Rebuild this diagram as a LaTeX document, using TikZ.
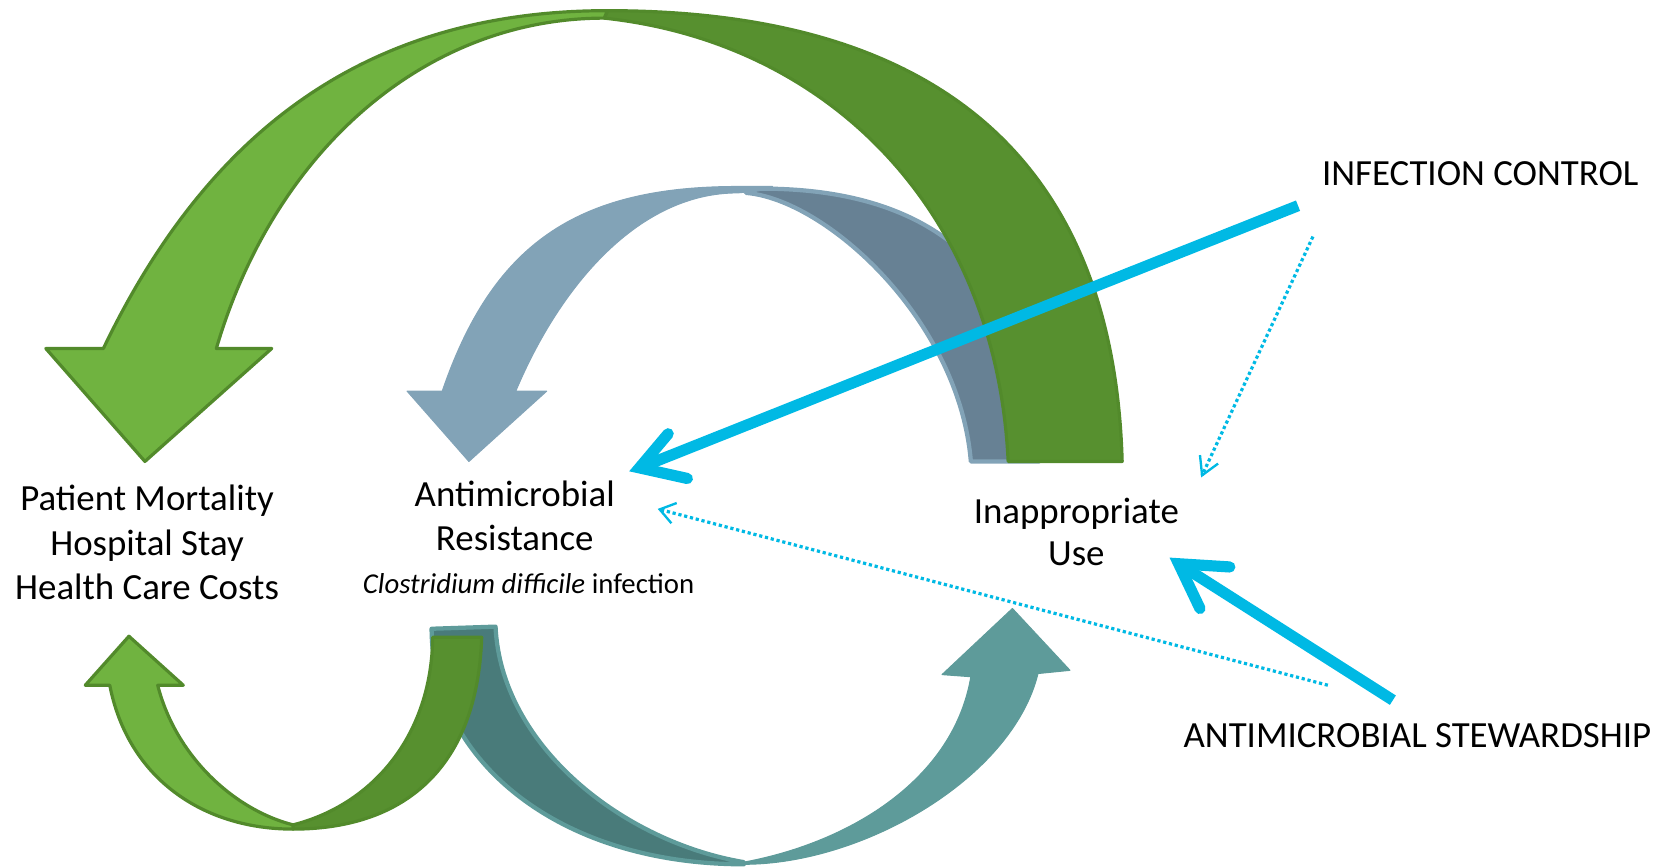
\documentclass[tikz,border=0pt]{standalone}
\usepackage{fontspec}
\setmainfont{Carlito}
\definecolor{glight}{HTML}{70B340}
\definecolor{gdark}{HTML}{57902F}
\definecolor{gline}{HTML}{528A2B}
\definecolor{blight}{HTML}{82A3B7}
\definecolor{bdark}{HTML}{678194}
\definecolor{tlight}{HTML}{5E9B9A}
\definecolor{tdark}{HTML}{497B7A}
\definecolor{cyanc}{HTML}{00B9E4}
\begin{document}
\begin{tikzpicture}[x=1pt,y=-1pt,
  greenfront/.style={fill=glight,draw=gline,line width=3pt,line join=round},
  greenback/.style={fill=gdark,draw=gline,line width=3pt,line join=round},
  greyfront/.style={fill=blight,draw=blight,line width=1pt,line join=round},
  greyback/.style={fill=bdark,draw=blight,line width=4pt,line join=round},
  tealfront/.style={fill=tlight,draw=tlight,line width=1pt,line join=round},
  tealback/.style={fill=tdark,draw=tlight,line width=4pt,line join=round},
  cyanthick/.style={draw=cyanc,line width=10.5pt},
  cyanhead/.style={draw=cyanc,line width=10.5pt,line cap=round,line join=miter},
  cyandot/.style={draw=cyanc,line width=3pt,dash pattern=on 3pt off 2.6pt},
  cyansmall/.style={draw=cyanc,line width=2.2pt,line join=miter},
  lbl/.style={font=\fontsize{34.6}{41.5}\selectfont,inner sep=0pt},
]
\useasboundingbox (0,0) rectangle (1568,814);

% grey-blue arrow (behind)
\path[greyback] (700,181) .. controls (775,187) and (900,300) .. (911,433)
  -- (975,433) .. controls (975,280) and (900,176) .. (712,177) -- cycle;
\path[greyfront] (725,175) -- (692,175) .. controls (540,175) and (462,230) .. (415,367)
  -- (382,367) -- (440,433) -- (513,367) -- (484,367)
  .. controls (526,267) and (600,181) .. (692,181) -- (712,179) -- cycle;

% big green arrow
\path[greenback] (567,17) .. controls (780,40) and (935,200) .. (946,433)
  -- (1053,433) .. controls (1045,150) and (880,10) .. (570,10) -- cycle;
\path[greenfront] (570,10) .. controls (340,10) and (193,127) .. (97,327)
  -- (43,327) -- (136,433) -- (255,327) -- (203,327)
  .. controls (258,140) and (400,17) .. (567,17) -- cycle;

% teal arrow
\path[tealback] (405,590) .. controls (405,710) and (520,811) .. (698,811)
  -- (698,809) .. controls (585,790) and (470,700) .. (465,588) -- cycle;
\path[tealfront] (698,811) .. controls (810,811) and (950,730) .. (974,632)
  -- (1004,629) -- (950,571) -- (884,633) -- (911,635)
  .. controls (895,730) and (800,790) .. (698,809) -- cycle;

% small green arrow
\path[greenback] (275,778) .. controls (380,778) and (448,720) .. (452,598)
  -- (406,598) .. controls (405,690) and (350,755) .. (275,774) -- cycle;
\path[greenfront] (275,778) .. controls (190,778) and (120,730) .. (103,643)
  -- (80,643) -- (121,597) -- (172,643) -- (148,643)
  .. controls (165,710) and (220,760) .. (275,774) -- cycle;

% labels
\node[lbl,align=center,font=\fontsize{34.6}{42}\selectfont] (pm) at (138,509) {Patient Mortality\\Hospital Stay\\Health Care Costs};
\node[lbl,align=center,font=\fontsize{34.6}{41}\selectfont] (amr) at (483,484) {Antimicrobial\\Resistance};
\node[font=\fontsize{27}{32}\selectfont,inner sep=0pt] (cdi) at (496,548) {\textit{Clostridium difficile} infection};
\node[lbl,align=center,font=\fontsize{34.6}{40}\selectfont] (iu) at (1010,499) {Inappropriate\\Use};
\node[lbl] (ic) at (1389,163) {INFECTION CONTROL};
\node[lbl] (as) at (1330,690) {ANTIMICROBIAL STEWARDSHIP};

% connector end points
\coordinate (icS) at (1218,193);
\coordinate (amrV) at (600,439);
\coordinate (asS) at (1307,657);
\coordinate (iuV) at (1106,529);
\coordinate (icD) at (1232,222);
\coordinate (iuT) at (1128,446);
\coordinate (asD) at (1246,643);
\coordinate (amrT) at (619,478);

% thick cyan arrows
\draw[cyanthick] (icS) -- (amrV);
\draw[cyanhead] (amrV) ++(27,-32) -- (amrV) -- ++(45,10);
\draw[cyanthick] (asS) -- (iuV);
\draw[cyanhead] (iuV) ++(48,3) -- (iuV) -- ++(20,42);

% dotted cyan arrows
\draw[cyandot] (icD) -- (iuT);
\draw[cyansmall] (iuT) ++(-2,-19) -- (iuT) -- ++(15,-11);
\draw[cyandot] (asD) -- (amrT);
\draw[cyansmall] (amrT) ++(16,-6) -- (amrT) -- ++(11,13);
\end{tikzpicture}
\end{document}
